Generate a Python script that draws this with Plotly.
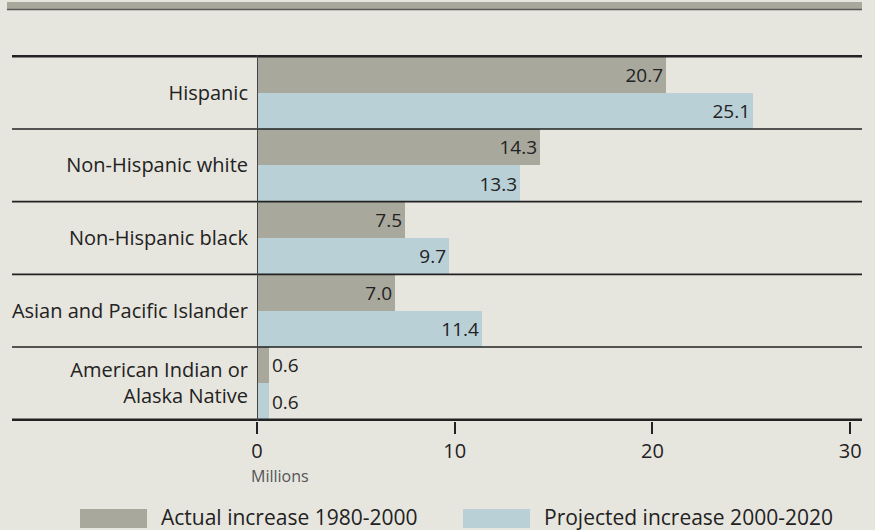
import plotly.graph_objects as go

categories = ["Hispanic", "Non-Hispanic white", "Non-Hispanic black",
              "Asian and Pacific Islander", "American Indian or<br>Alaska Native"]
actual_1980_2000 = [20.7, 14.3, 7.5, 7.0, 0.6]
projected_2000_2020 = [25.1, 13.3, 9.7, 11.4, 0.6]
series_names = ["Actual increase 1980-2000", "Projected increase 2000-2020"]
x_ticks = [0, 10, 20, 30]

BG = "#E6E5DE"
GRAY = "#A9A89C"
BLUE = "#B9D0D6"
INK = "#222222"
FONT = "Open Sans"

# plot-area geometry in pixels
L, R, T, B = 257, 13, 55, 109
W, H = 875 - L - R, 530 - T - B


def px_x(x):
    return (x - L) / W


def px_y(y):
    return 1 - (y - T) / H


def label_positions(vals):
    return ["outside" if v < 2 else "inside" for v in vals]


fig = go.Figure()
for name, vals, color in [(series_names[0], actual_1980_2000, GRAY),
                          (series_names[1], projected_2000_2020, BLUE)]:
    fig.add_trace(go.Bar(
        y=categories, x=vals, orientation="h", name=name,
        marker=dict(color=color, line=dict(width=0)),
        text=[f"{v:.1f}" for v in vals],
        textposition=label_positions(vals),
        insidetextanchor="end",
        textfont=dict(family=FONT, size=19, color=INK),
        constraintext="none",
        cliponaxis=False,
        showlegend=False,
    ))

fig.update_layout(
    width=875, height=530,
    paper_bgcolor=BG, plot_bgcolor=BG,
    margin=dict(l=L, r=R, t=T, b=B),
    barmode="group", bargap=0.0, bargroupgap=0.0,
    font=dict(family=FONT, size=20, color=INK),
    xaxis=dict(
        range=[0, 30.6], tickvals=x_ticks, ticktext=[str(t) for t in x_ticks],
        showgrid=False, zeroline=False,
        showline=False, ticks="outside", ticklen=12, tickwidth=2,
        tickcolor=INK, ticklabelstandoff=0,
        tickfont=dict(family=FONT, size=20, color=INK),
    ),
    yaxis=dict(
        autorange="reversed", showgrid=False, zeroline=False,
        showline=False, ticks="", ticklabelstandoff=8,
        tickfont=dict(family=FONT, size=20, color=INK),
    ),
)

shapes = []
# top banner strip
shapes.append(dict(type="rect", xref="paper", yref="paper",
                   x0=px_x(7), x1=1.0, y0=px_y(9), y1=px_y(2),
                   fillcolor=GRAY, line=dict(width=0), layer="below"))
shapes.append(dict(type="line", xref="paper", yref="paper",
                   x0=px_x(7), x1=1.0, y0=px_y(9.5), y1=px_y(9.5),
                   line=dict(color="#5a5a55", width=1.5)))
# category separators across label column and plot
n = len(categories)
for i in range(n + 1):
    y = i - 0.5
    w = 2.5 if i in (0, n) else 1.6
    shapes.append(dict(type="line", xref="paper", yref="y",
                       x0=px_x(12), x1=1.0, y0=y, y1=y,
                       line=dict(color=INK, width=w), layer="above"))
# zero axis
shapes.append(dict(type="line", xref="x", yref="paper", x0=0, x1=0, y0=0, y1=1,
                   line=dict(color="#444", width=2), layer="above"))

annotations = [dict(text="Millions", xref="paper", yref="paper", x=px_x(249), y=px_y(476),
                    showarrow=False, xanchor="left", yanchor="middle",
                    font=dict(family=FONT, size=16, color="#555"))]
# legend swatches and labels
legend_items = [(series_names[0], GRAY, 80, 147, 159), (series_names[1], BLUE, 463, 530, 542)]
for name, color, sx0, sx1, tx in legend_items:
    shapes.append(dict(type="rect", xref="paper", yref="paper",
                       x0=px_x(sx0), x1=px_x(sx1), y0=px_y(528), y1=px_y(509),
                       fillcolor=color, line=dict(width=0)))
    annotations.append(dict(text=name, xref="paper", yref="paper",
                            x=px_x(tx), y=px_y(517),
                            showarrow=False, xanchor="left", yanchor="middle",
                            font=dict(family=FONT, size=21, color=INK)))

fig.update_layout(shapes=shapes, annotations=annotations)
fig.write_html("out.html")
